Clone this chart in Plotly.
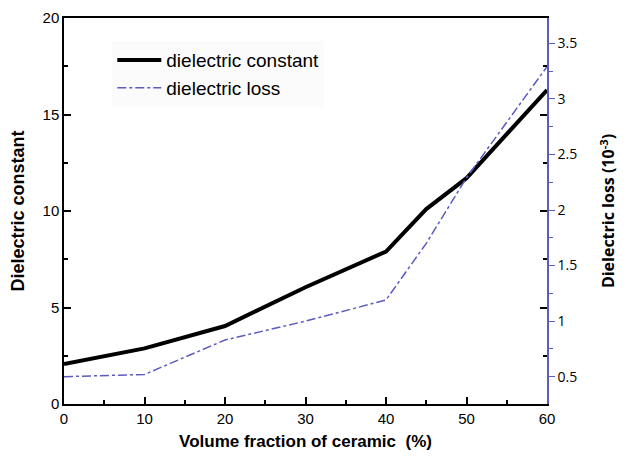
import plotly.graph_objects as go

x_vals = [0, 10, 20, 30, 40, 45, 50, 60]
dielectric_constant = [2.07, 2.88, 4.04, 6.05, 7.9, 10.1, 11.7, 16.27]
dielectric_loss = [0.50, 0.52, 0.83, 1.00, 1.19, 1.70, 2.29, 3.29]

blue = "#5b5bc0"

fig = go.Figure()
fig.add_trace(go.Scatter(x=x_vals, y=dielectric_constant, mode="lines",
                         name="dielectric constant",
                         line=dict(color="black", width=4)))
fig.add_trace(go.Scatter(x=x_vals, y=dielectric_loss, mode="lines",
                         name="dielectric loss", yaxis="y2",
                         line=dict(color=blue, width=1.5, dash="dashdot")))

# page body has an 8px margin, so the figure is drawn 8px smaller
fig.update_layout(
    width=617, height=449,
    margin=dict(l=56, r=78, t=10, b=53, autoexpand=False),
    plot_bgcolor="white", paper_bgcolor="white",
    font=dict(family="Liberation Sans, Arial", color="black", size=15),
    showlegend=True,
    legend=dict(x=0.1, y=0.94, xanchor="left", yanchor="top",
                bgcolor="rgba(251,251,251,1)", font=dict(size=19),
                tracegroupgap=0, itemwidth=44),
    xaxis=dict(range=[0, 60], dtick=10, ticks="inside", ticklen=7,
               tickwidth=1.5, tickcolor="black", automargin=False,
               minor=dict(dtick=5, ticks="inside", ticklen=4, tickcolor="black"),
               showline=True, linecolor="black", linewidth=1.5, mirror=True,
               showgrid=False, zeroline=False,
               title=dict(text="<b>Volume fraction of ceramic  (%)</b>",
                          font=dict(size=17), standoff=9)),
    yaxis=dict(range=[0, 20], dtick=5, ticks="inside", ticklen=7,
               tickwidth=1.5, tickcolor="black", automargin=False,
               minor=dict(dtick=2.5, ticks="inside", ticklen=4, tickcolor="black"),
               showline=True, linecolor="black", linewidth=1.5, mirror="allticks",
               showgrid=False, zeroline=False,
               title=dict(text="<b>Dielectric constant</b>", font=dict(size=18),
                          standoff=14)),
    yaxis2=dict(range=[0.254, 3.728], dtick=0.5, tick0=0.5, overlaying="y",
                side="right", ticks="outside", ticklen=6, tickcolor=blue,
                automargin=False,
                minor=dict(dtick=0.25, ticks="outside", ticklen=4, tickcolor=blue),
                showline=True, linecolor=blue, linewidth=1.5,
                showgrid=False, zeroline=False,
                tickfont=dict(family="Open Sans", size=14, color="black"),
                title=dict(text="<b>Dielectric loss (10<sup>-3</sup>)</b>",
                           font=dict(family="Open Sans", size=16), standoff=27)),
)

fig.write_html("out.html")
